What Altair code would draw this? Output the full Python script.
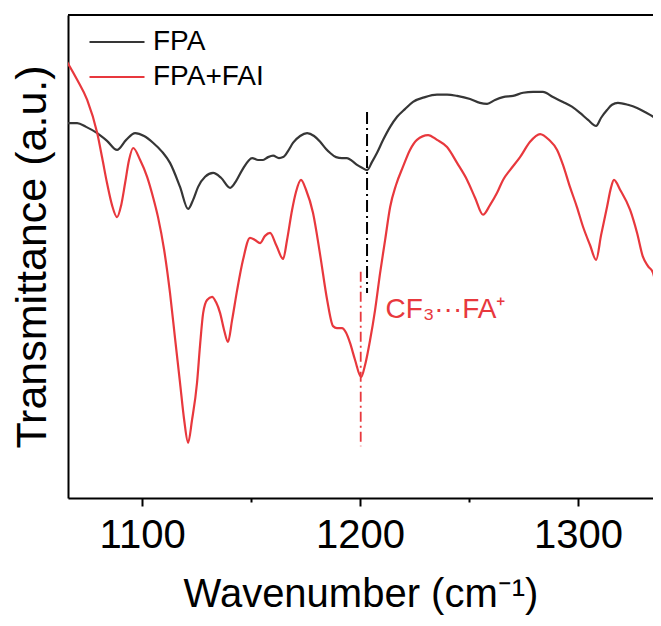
import altair as alt
import pandas as pd

# ---- data ----
series_names = ["FPA", "FPA+FAI"]
series_colors = ["#363636", "#e8383d"]

fpa_wn = [1065.6, 1070.2, 1074.3, 1079.4, 1083.9, 1088.5, 1092.7, 1096.8, 1100.9, 1105.0,
          1109.2, 1112.8, 1117.4, 1121.1, 1123.4, 1125.7, 1128.9, 1132.6, 1136.2, 1140.4,
          1143.1, 1145.9, 1150.5, 1153.2, 1155.5, 1157.8, 1160.1, 1162.8, 1164.7, 1167.0,
          1169.3, 1172.5, 1175.7, 1178.9, 1181.7, 1184.4, 1186.2, 1189.0, 1191.7, 1194.0,
          1196.3, 1198.6, 1200.9, 1203.2, 1205.5, 1207.8, 1210.6, 1213.8, 1217.0, 1220.6,
          1224.3, 1229.8, 1235.3, 1239.9, 1244.5, 1250.5, 1255.0, 1258.3, 1261.9, 1265.6,
          1270.2, 1274.8, 1279.4, 1283.9, 1288.5, 1293.1, 1297.2, 1300.9, 1304.6, 1308.3,
          1310.6, 1313.3, 1315.6, 1318.3, 1322.9, 1327.1, 1330.7, 1334.4, 1336.7, 1338.1]
fpa_t = [78.1, 78.1, 77.3, 76.0, 74.4, 72.5, 74.6, 76.0, 75.4, 74.0,
         72.1, 69.8, 64.8, 60.2, 62.1, 64.8, 66.9, 67.7, 66.7, 64.6,
         66.0, 68.3, 70.8, 70.4, 70.4, 71.0, 71.3, 70.8, 71.0, 72.3,
         74.0, 75.4, 76.0, 75.4, 74.2, 72.7, 71.9, 71.0, 70.8, 70.8,
         70.2, 69.4, 68.8, 68.3, 70.0, 71.9, 74.6, 77.3, 79.4, 81.0,
         82.5, 83.5, 84.0, 84.0, 83.75, 83.1, 82.3, 82.1, 82.9, 83.5,
         83.75, 84.4, 84.6, 84.6, 83.5, 82.5, 81.5, 80.2, 78.75, 77.5,
         79.2, 80.8, 81.9, 82.3, 81.9, 81.25, 80.4, 79.4, 78.3, 77.3]

fai_wn = [1065.6, 1070.2, 1074.8, 1079.4, 1081.7, 1083.9, 1086.2, 1088.5, 1090.4, 1092.2,
          1094.0, 1095.9, 1099.1, 1102.3, 1105.0, 1107.3, 1110.1, 1112.8, 1115.1, 1117.4,
          1119.3, 1121.1, 1122.9, 1125.2, 1126.6, 1128.0, 1129.8, 1132.1, 1133.9, 1135.8,
          1137.6, 1139.4, 1141.3, 1143.6, 1146.3, 1149.5, 1151.8, 1154.1, 1156.4, 1158.7,
          1161.5, 1164.7, 1166.5, 1168.8, 1170.6, 1172.9, 1175.2, 1178.4, 1181.7, 1184.9,
          1187.6, 1189.4, 1191.7, 1193.6, 1195.4, 1197.7, 1200.5, 1202.3, 1204.6, 1206.9,
          1209.2, 1211.5, 1213.8, 1216.5, 1219.7, 1222.9, 1226.1, 1231.2, 1235.3, 1239.9,
          1244.5, 1249.1, 1252.8, 1256.4, 1259.6, 1262.8, 1265.6, 1268.8, 1273.4, 1278.0,
          1282.6, 1286.7, 1290.4, 1293.1, 1296.3, 1299.5, 1302.3, 1305.5, 1308.3, 1310.6,
          1313.3, 1315.1, 1316.5, 1319.3, 1323.9, 1327.1, 1329.8, 1332.1, 1334.4, 1336.2,
          1338.1]
fai_t = [90.8, 87.1, 82.9, 76.0, 70.8, 65.6, 61.0, 58.5, 61.0, 65.6,
         70.4, 72.9, 70.4, 66.9, 62.7, 58.5, 51.7, 42.7, 33.3, 24.0,
         16.25, 11.5, 16.25, 24.0, 31.9, 38.5, 41.25, 41.9, 40.8, 38.5,
         35.0, 32.5, 37.1, 43.3, 49.6, 54.2, 53.75, 53.1, 54.6, 55.2,
         52.7, 49.8, 53.75, 60.0, 63.75, 66.25, 64.2, 59.4, 50.6, 41.25,
         35.8, 35.4, 35.4, 34.4, 32.3, 28.75, 25.2, 27.7, 32.9, 39.2,
         46.9, 53.75, 60.6, 65.2, 69.0, 72.5, 74.6, 75.6, 74.6, 73.1,
         69.8, 66.25, 62.5, 59.0, 61.0, 63.5, 66.25, 68.3, 71.0, 74.2,
         75.8, 74.6, 72.5, 69.4, 64.8, 60.6, 56.5, 52.7, 49.6, 54.8,
         60.6, 64.6, 66.25, 64.2, 60.0, 55.2, 50.2, 48.3, 46.9, 43.3,
         41.25]

tick_values = [1100, 1150, 1200, 1250, 1300]

# annotation marks (data coordinates)
marker_black = {"x": [1203.2], "y1": [80.4], "y2": [42.7]}
marker_red = {"x": [1200.3], "y1": [47.1], "y2": [10.8]}
note = {"x": [1211.7], "y": [37.5], "label": ["CF\u2083\u00b7\u00b7\u00b7FA\u207a"]}

FONT = "Liberation Sans"
W, H = 585, 483

df = pd.concat([
    pd.DataFrame({"wn": fpa_wn, "t": fpa_t, "s": series_names[0]}),
    pd.DataFrame({"wn": fai_wn, "t": fai_t, "s": series_names[1]}),
], ignore_index=True)

x_scale = alt.Scale(domain=[1066, 1334.4], nice=False, zero=False)
y_scale = alt.Scale(domain=[0, 100.6], nice=False, zero=False)

x_axis = alt.Axis(
    values=tick_values,
    format="d",
    labelExpr="datum.value % 100 === 0 ? datum.label : ''",
    tickSize={"condition": {"test": "datum.value % 100 === 0", "value": 8}, "value": 4},
    labelPadding=9,
    labelFontSize=40,
    titleFontSize=40,
    titlePadding=19,
    grid=False,
)
y_axis = alt.Axis(ticks=False, labels=False, grid=False, titleFontSize=43, titlePadding=14)

lines = alt.Chart(df).mark_line(strokeWidth=2.2, interpolate="monotone", clip=True).encode(
    x=alt.X("wn:Q", scale=x_scale, axis=x_axis, title="Wavenumber (cm\u207b\u00b9)"),
    y=alt.Y("t:Q", scale=y_scale, axis=y_axis, title="Transmittance (a.u.)"),
    color=alt.Color(
        "s:N",
        scale=alt.Scale(domain=series_names, range=series_colors),
        title=None,
        legend=alt.Legend(
            orient="none", legendX=20, legendY=13,
            symbolType="stroke", symbolSize=3025, symbolStrokeWidth=2.2,
            labelFontSize=28, labelFont=FONT, labelColor="black", labelOffset=7,
            clipHeight=28, rowPadding=7, padding=0,
        ),
    ),
)

rule_black = alt.Chart(pd.DataFrame(marker_black)).mark_rule(
    color="black", strokeWidth=2, strokeDash=[12, 4, 2, 4]
).encode(x="x:Q", y="y1:Q", y2="y2:Q")

rule_red = alt.Chart(pd.DataFrame(marker_red)).mark_rule(
    color=series_colors[1], strokeWidth=1.8, strokeDash=[10, 4, 2, 4]
).encode(x="x:Q", y="y1:Q", y2="y2:Q")

label = alt.Chart(pd.DataFrame(note)).mark_text(
    align="left", baseline="alphabetic", fontSize=28, font=FONT, color=series_colors[1]
).encode(x="x:Q", y="y:Q", text="label:N")

top_border = alt.Chart(pd.DataFrame({"k": [0]})).mark_rule(color="black", strokeWidth=2).encode(
    x=alt.value(0), x2=alt.value(W), y=alt.value(0)
)

chart = alt.layer(lines, rule_black, rule_red, label, top_border).properties(
    width=W, height=H,
    autosize=alt.AutoSizeParams(type="none"),
    padding={"left": 60, "top": 7, "right": 0, "bottom": 120},
).configure_view(strokeOpacity=0).configure_axis(
    domainColor="black", domainWidth=2, tickColor="black", tickWidth=2,
    labelColor="black", titleColor="black", labelFont=FONT, titleFont=FONT,
    titleFontWeight="normal",
)

chart.save("out.html", embed_options={"renderer": "svg", "actions": False})
